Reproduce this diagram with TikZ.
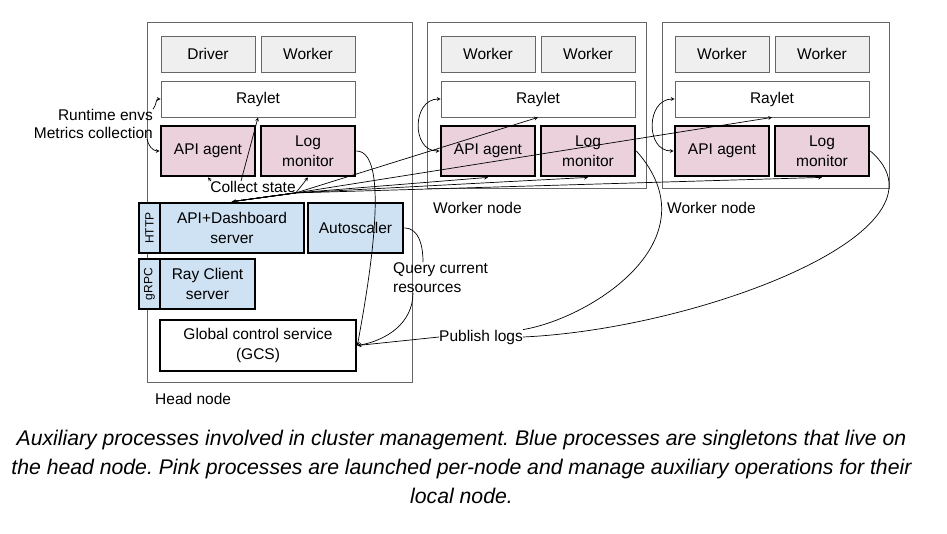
\documentclass[tikz,border=0pt]{standalone}
\usepackage{fontspec}
\setmainfont{Liberation Sans}
\usepackage{tikz}
\usetikzlibrary{positioning}
\definecolor{boxgrey}{HTML}{EFEFEF}
\definecolor{linegrey}{HTML}{666666}
\definecolor{agentpink}{HTML}{EAD1DC}
\definecolor{headblue}{HTML}{CFE2F3}
\frenchspacing

\begin{document}
\begin{tikzpicture}[x=1pt, y=1pt, >=stealth,
    every node/.style={font=\fontsize{15.5}{19.5}\selectfont, inner sep=0pt},
    nodebox/.style={draw=linegrey, line width=0.8pt},
    proc/.style={draw=linegrey, line width=0.8pt, fill=boxgrey, minimum width=94, minimum height=36},
    raylet/.style={draw=linegrey, line width=0.8pt, fill=white, minimum width=194, minimum height=36},
    agent/.style={draw, line width=2.8pt, fill=agentpink, minimum width=94, minimum height=50, align=center},
    single/.style={draw, line width=2.8pt, fill=headblue, minimum height=50, align=center},
    tab/.style={single, minimum width=50, minimum height=21, rotate=90, font=\fontsize{12}{14}\selectfont},
    conn/.style={line width=0.7pt}]
    \useasboundingbox (0,0) rectangle (947,-533);

    \node (head) [nodebox, minimum width=265, minimum height=360] at (279.5,-202) {};
    \node (w1) [nodebox, minimum width=219, minimum height=166] at (536.5,-105) {};
    \node (w2) [nodebox, minimum width=227, minimum height=166] at (775.5,-105) {};

    \node (driver) [proc] at (208,-54) {Driver};
    \node (hworker) [proc] at (308,-54) {Worker};
    \node (hraylet) [raylet] at (258,-99) {Raylet};
    \node (hagent) [agent] at (208,-151) {API agent};
    \node (hlog) [agent] at (308,-151) {Log\\monitor};

    \foreach \i/\dx in {1/280, 2/514} {
        \node (worker\i a) [proc] at (208+\dx,-54) {Worker};
        \node (worker\i b) [proc] at (308+\dx,-54) {Worker};
        \node (raylet\i) [raylet] at (258+\dx,-99) {Raylet};
        \node (agent\i) [agent] at (208+\dx,-151) {API agent};
        \node (log\i) [agent] at (308+\dx,-151) {Log\\monitor};
        \node (wlabel\i) [anchor=west] at (153+\dx,-208) {Worker node};
        \draw[conn, <->] (raylet\i.west) to[out=180, in=180, looseness=1.4] (agent\i.west);
    }

    \node (http) [tab] at (149.5,-228) {HTTP};
    \node (dash) [single, minimum width=144] at (232,-228) {API+Dashboard\\server};
    \node (auto) [single, minimum width=95] at (355.5,-228) {Autoscaler};
    \node (grpc) [tab] at (149.5,-284) {gRPC};
    \node (client) [single, minimum width=95] at (207.5,-284) {Ray Client\\server};
    \node (gcs) [single, fill=white, minimum width=196, minimum height=51] at (258,-345.5) {Global control service\\(GCS)};

    \node (rtenv) [anchor=east] at (153,-115) {Runtime envs};
    \node (metrics) [anchor=east] at (153,-133) {Metrics collection};
    \node (collect) at (253,-187) {Collect state};
    \node (query) [anchor=north west, align=left] at (393,-262) {Query current\\resources};
    \node (publish) at (481,-337) {Publish logs};
    \node (hlabel) [anchor=west] at (155,-399) {Head node};

    \draw[conn, ->] (rtenv.north east) to[out=45, in=180] (hraylet.west);
    \draw[conn, ->] ([xshift=-6pt]metrics.south east) to[out=-80, in=180] (hagent.west);

    \coordinate (cs) at (collect.south east);
    \draw[conn, ->] (cs) -- (dash.north);
    \foreach \t in {hlog, raylet1, agent1, log1, raylet2, log2}
        \draw[conn, ->] (dash.north) -- (cs) -- (\t.south);
    \draw[conn, ->] ([xshift=-12pt]collect.north) -- (hraylet.south);
    \draw[conn, ->] ([xshift=-42pt]collect.north) -- (hagent.south);

    \draw[conn, ->] (hlog.east) to[out=0, in=80, looseness=0.5] (gcs.east);
    \draw[conn] (log1.east) .. controls +(79,-89) and +(67,11) .. (publish.north east);
    \draw[conn] (log2.east) .. controls +(91,-79) and +(177,8) .. (publish.east);
    \draw[conn, ->] (publish.west) -- (gcs.east);

    \draw[conn] (auto.east) to[out=0, in=90] ([xshift=30pt]query.north west);
    \draw[conn, ->] ([xshift=20pt]query.south west) to[out=-90, in=10] (gcs.east);

    \node (caption) [font=\fontsize{21.2}{29}\selectfont\itshape, align=center] at (461.5,-467)
        {Auxiliary processes involved in cluster management. Blue processes are singletons that live on\\
         the head node. Pink processes are launched per-node and manage auxiliary operations for their\\
         local node.};
\end{tikzpicture}
\end{document}
